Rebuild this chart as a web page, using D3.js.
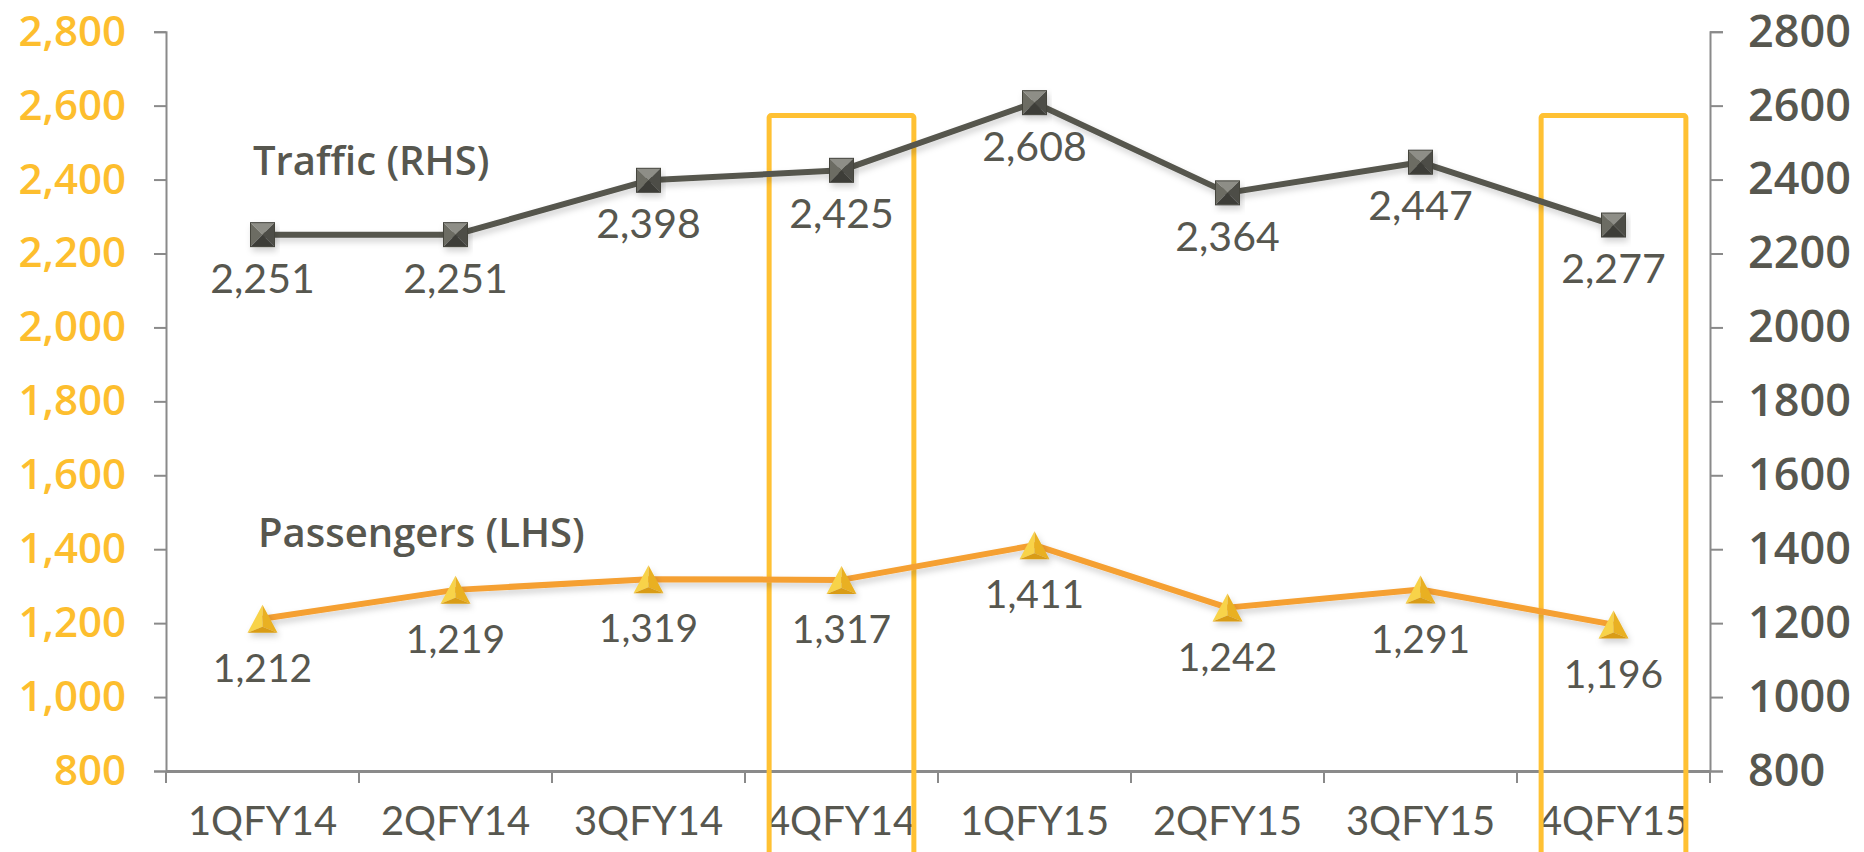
<!DOCTYPE html>
<html>
<head>
<meta charset="utf-8">
<script src="https://cdn.jsdelivr.net/npm/d3@7"></script>
<style>
  html, body { margin: 0; padding: 0; background: #ffffff; }
  svg { display: block; font-family: Lato, "Open Sans", sans-serif; }
</style>
</head>
<body>
<script>
// ---- data ----
const categories = ["1QFY14", "2QFY14", "3QFY14", "4QFY14", "1QFY15", "2QFY15", "3QFY15", "4QFY15"];
const trafficValues = [2251, 2251, 2398, 2425, 2608, 2364, 2447, 2277];
const trafficLabels = ["2,251", "2,251", "2,398", "2,425", "2,608", "2,364", "2,447", "2,277"];
const passengerValues = [1212, 1290, 1319, 1317, 1411, 1242, 1291, 1196];
const passengerLabels = ["1,212", "1,219", "1,319", "1,317", "1,411", "1,242", "1,291", "1,196"];
const leftTicks = [800, 1000, 1200, 1400, 1600, 1800, 2000, 2200, 2400, 2600, 2800];
const rightTicks = [800, 1000, 1200, 1400, 1600, 1800, 2000, 2200, 2400, 2600, 2800];
const highlighted = ["4QFY14", "4QFY15"];

// ---- layout ----
const W = 1864, H = 852;
const mLeft = 166, mRight = 1710, mTop = 31.7, mBottom = 771;

const svg = d3.select("body").append("svg").attr("width", W).attr("height", H);

const defs = svg.append("defs");
const f = defs.append("filter").attr("id", "shadow").attr("x", "-20%").attr("y", "-20%").attr("width", "140%").attr("height", "160%");
f.append("feDropShadow").attr("dx", 2).attr("dy", 4).attr("stdDeviation", 3).attr("flood-color", "#000").attr("flood-opacity", 0.18);

const x = d3.scaleBand().domain(categories).range([mLeft, mRight]).padding(0);
const yL = d3.scaleLinear().domain([800, 2800]).range([mBottom, mTop]);
const yR = d3.scaleLinear().domain([800, 2800]).range([mBottom, mTop]);

const textColor = "#57574f";
const axisColor = "#8a8a8a";
const yellow = "#fdbe2e";
const headFont = "'Open Sans', Lato, sans-serif";

// left axis
const gL = svg.append("g").attr("transform", `translate(${mLeft},0)`)
  .call(d3.axisLeft(yL).tickValues(leftTicks).tickSize(12).tickPadding(28).tickFormat(d3.format(",")));
gL.select(".domain").attr("stroke", axisColor).attr("stroke-width", 2);
gL.selectAll(".tick line").attr("stroke", axisColor).attr("stroke-width", 2);
gL.selectAll(".tick text").attr("fill", yellow).attr("font-size", 42).attr("font-weight", 600)
  .attr("font-family", headFont);

// right axis
const gR = svg.append("g").attr("transform", `translate(${mRight},0)`)
  .call(d3.axisRight(yR).tickValues(rightTicks).tickSize(13).tickPadding(25).tickFormat(d3.format("d")));
gR.select(".domain").attr("stroke", axisColor).attr("stroke-width", 2);
gR.selectAll(".tick line").attr("stroke", axisColor).attr("stroke-width", 2);
gR.selectAll(".tick text").attr("fill", textColor).attr("font-size", 45).attr("font-weight", 600)
  .attr("font-family", headFont);

// bottom axis
const gB = svg.append("g").attr("transform", `translate(0,${mBottom})`)
  .call(d3.axisBottom(x).tickSize(0).tickPadding(36));
gB.select(".domain").attr("stroke", axisColor).attr("stroke-width", 3);
gB.selectAll(".tick text").attr("fill", textColor).attr("font-size", 40).attr("font-family", "Lato, sans-serif");
const boundaries = categories.map(c => x(c)).concat([x.range()[1]]);
svg.append("g").selectAll("line").data(boundaries).join("line")
  .attr("x1", d => d).attr("x2", d => d)
  .attr("y1", mBottom).attr("y2", mBottom + 12)
  .attr("stroke", axisColor).attr("stroke-width", 2);

// highlight boxes
const boxW = x.bandwidth() * 0.75;
svg.append("g").selectAll("rect").data(highlighted).join("rect")
  .attr("x", d => x(d) + x.bandwidth() / 2 - boxW / 2)
  .attr("y", yR(2573))
  .attr("width", boxW)
  .attr("height", H + 20 - yR(2573))
  .attr("rx", 2)
  .attr("fill", "none").attr("stroke", "#ffc133").attr("stroke-width", 5);

const cx = c => x(c) + x.bandwidth() / 2;

// traffic line
const trafficData = categories.map((c, i) => ({ c, v: trafficValues[i], l: trafficLabels[i] }));
svg.append("path").datum(trafficData)
  .attr("d", d3.line().x(d => cx(d.c)).y(d => yR(d.v)))
  .attr("fill", "none").attr("stroke", "#56564e").attr("stroke-width", 6)
  .attr("stroke-linejoin", "round").attr("filter", "url(#shadow)");

// passengers line
const passData = categories.map((c, i) => ({ c, v: passengerValues[i], l: passengerLabels[i] }));
svg.append("path").datum(passData)
  .attr("d", d3.line().x(d => cx(d.c)).y(d => yL(d.v)))
  .attr("fill", "none").attr("stroke", "#f5a033").attr("stroke-width", 6)
  .attr("stroke-linejoin", "round").attr("filter", "url(#shadow)");

// square pyramid markers
const s = 12;
const sq = svg.append("g").selectAll("g").data(trafficData).join("g")
  .attr("transform", d => `translate(${cx(d.c)},${yR(d.v)})`)
  .attr("filter", "url(#shadow)");
sq.append("path").attr("d", `M${-s},${-s}L${s},${-s}L0,0Z`).attr("fill", "#8e8e87");
sq.append("path").attr("d", `M${-s},${-s}L${-s},${s}L0,0Z`).attr("fill", "#6c6c64");
sq.append("path").attr("d", `M${s},${-s}L${s},${s}L0,0Z`).attr("fill", "#4d4d46");
sq.append("path").attr("d", `M${-s},${s}L${s},${s}L0,0Z`).attr("fill", "#3e3e38");
sq.append("rect").attr("x", -s).attr("y", -s).attr("width", 2 * s).attr("height", 2 * s)
  .attr("fill", "none").attr("stroke", "#44443e").attr("stroke-width", 1);

// triangle markers
const tri = svg.append("g").selectAll("g").data(passData).join("g")
  .attr("transform", d => `translate(${cx(d.c)},${yL(d.v)})`)
  .attr("filter", "url(#shadow)");
tri.append("path").attr("d", "M0,-14L-15,14L0,8Z").attr("fill", "#f8d34a");
tri.append("path").attr("d", "M0,-14L15,14L0,8Z").attr("fill", "#e9b020");
tri.append("path").attr("d", "M-15,14L15,14L0,8Z").attr("fill", "#d99c16");

// data labels
svg.append("g").selectAll("text").data(trafficData).join("text")
  .attr("x", d => cx(d.c)).attr("y", d => yR(d.v) + 58)
  .attr("text-anchor", "middle").attr("fill", textColor).attr("font-size", 41)
  .text(d => d.l);
svg.append("g").selectAll("text").data(passData).join("text")
  .attr("x", d => cx(d.c)).attr("y", d => yL(d.v) + 63)
  .attr("text-anchor", "middle").attr("fill", textColor).attr("font-size", 39)
  .text(d => d.l);

// series titles
svg.append("text").attr("x", 253).attr("y", 175).attr("fill", textColor).attr("font-family", headFont)
  .attr("font-size", 40).attr("font-weight", 600).text("Traffic (RHS)");
svg.append("text").attr("x", 258).attr("y", 547).attr("fill", textColor).attr("font-family", headFont)
  .attr("font-size", 40).attr("font-weight", 600).text("Passengers (LHS)");
</script>
</body>
</html>
